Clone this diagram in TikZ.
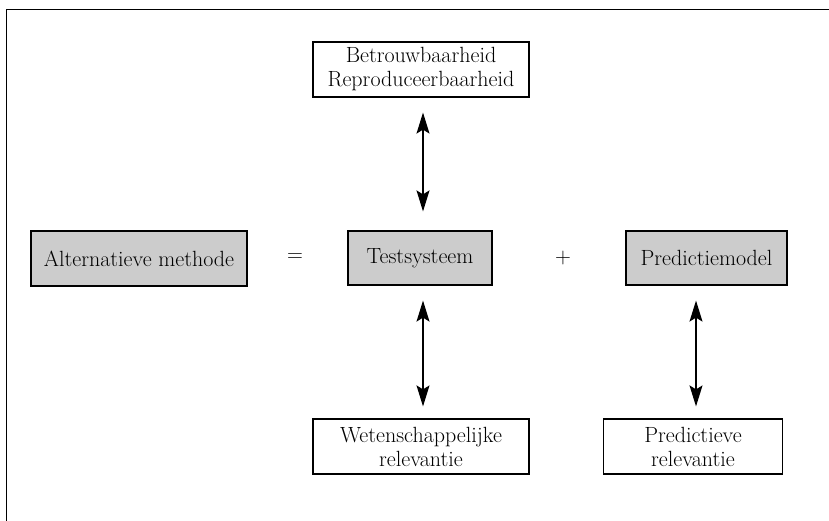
\documentclass[tikz,border=0pt]{standalone}
\usetikzlibrary{arrows.meta}
\begin{document}
\begin{tikzpicture}[x=1pt,y=-1pt,
  box/.style={draw=black, line width=1.2pt, inner sep=0pt, align=center,
    font=\fontsize{22}{24}\selectfont},
  grey/.style={box, fill=black!20},
  sym/.style={font=\fontsize{22}{24}\selectfont, inner sep=0pt},
  tip/.style={Stealth[length=21pt,width=13pt,inset=4pt]},
  dbl/.style={line width=1.3pt, {Stealth[length=21pt,width=13pt,inset=4pt]}-{Stealth[length=21pt,width=13pt,inset=4pt]}}]
\useasboundingbox (0,0) rectangle (829,521);
\draw[line width=1.8pt] (6.5,521) -- (6.5,9.5) -- (829,9.5);
\node[box, minimum width=216, minimum height=55] (top) at (421,69.5) {Betrouwbaarheid\\Reproduceerbaarheid};
\node[grey, minimum width=216, minimum height=55] (alt) at (139,258.5) {Alternatieve methode};
\node[grey, minimum width=144, minimum height=54] (test) at (420,258) {Testsysteem};
\node[grey, minimum width=161, minimum height=54] (pred) at (706.5,258) {Predictiemodel};
\node[box, minimum width=216, minimum height=55] (wet) at (421,446.5) {Wetenschappelijke\\relevantie};
\node[box, minimum width=179, minimum height=55] (prv) at (693,446.5) {Predictieve\\relevantie};
\node[sym] (eq) at (295,258) {=};
\node[sym] (plus) at (563,258) {+};
\draw[dbl] ([shift={(2,15)}]top.south) -- ([shift={(3,-19)}]test.north);
\draw[dbl] ([shift={(3,15)}]test.south) -- ([shift={(2,-12)}]wet.north);
\draw[dbl] ([shift={(-10.5,15)}]pred.south) -- ([shift={(3,-12)}]prv.north);
\end{tikzpicture}
\end{document}
